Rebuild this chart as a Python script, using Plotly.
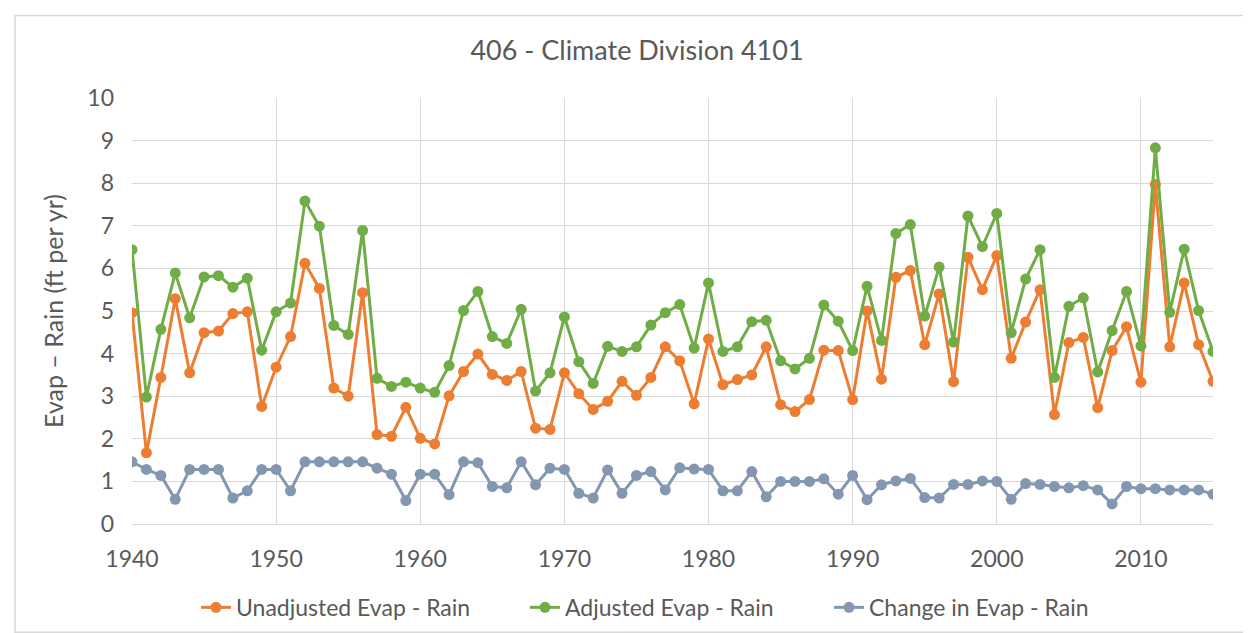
import plotly.graph_objects as go

years = list(range(1940, 2016))

unadjusted = [
    4.96, 1.67, 3.44, 5.29, 3.55, 4.49, 4.53, 4.94, 4.98, 2.76,
    3.68, 4.40, 6.12, 5.53, 3.19, 3.00, 5.43, 2.10, 2.06, 2.74,
    2.01, 1.88, 3.01, 3.58, 3.99, 3.51, 3.37, 3.58, 2.25, 2.22,
    3.55, 3.06, 2.69, 2.88, 3.35, 3.02, 3.44, 4.16, 3.83, 2.82,
    4.34, 3.27, 3.39, 3.50, 4.16, 2.80, 2.64, 2.92, 4.08, 4.07,
    2.92, 5.00, 3.40, 5.79, 5.95, 4.21, 5.40, 3.34, 6.26, 5.50,
    6.30, 3.89, 4.74, 5.50, 2.57, 4.26, 4.38, 2.73, 4.07, 4.63,
    3.33, 7.97, 4.16, 5.66, 4.21, 3.35,
]

adjusted = [
    6.44, 2.98, 4.57, 5.89, 4.84, 5.80, 5.83, 5.56, 5.77, 4.08,
    4.98, 5.19, 7.58, 6.99, 4.66, 4.45, 6.89, 3.42, 3.23, 3.33,
    3.19, 3.09, 3.72, 5.01, 5.46, 4.40, 4.24, 5.04, 3.12, 3.55,
    4.86, 3.81, 3.30, 4.17, 4.05, 4.16, 4.67, 4.96, 5.15, 4.13,
    5.66, 4.05, 4.16, 4.75, 4.78, 3.83, 3.64, 3.89, 5.14, 4.76,
    4.07, 5.58, 4.31, 6.82, 7.03, 4.88, 6.03, 4.27, 7.23, 6.51,
    7.29, 4.49, 5.75, 6.44, 3.44, 5.11, 5.31, 3.57, 4.54, 5.46,
    4.18, 8.83, 4.97, 6.45, 5.01, 4.05,
]

change = [
    1.46, 1.28, 1.14, 0.58, 1.28, 1.28, 1.28, 0.61, 0.78, 1.28,
    1.28, 0.78, 1.46, 1.46, 1.46, 1.46, 1.46, 1.31, 1.17, 0.55,
    1.17, 1.17, 0.69, 1.46, 1.44, 0.88, 0.85, 1.46, 0.92, 1.31,
    1.28, 0.72, 0.61, 1.27, 0.72, 1.14, 1.23, 0.80, 1.32, 1.29,
    1.28, 0.78, 0.78, 1.23, 0.64, 1.00, 1.00, 1.00, 1.06, 0.70,
    1.14, 0.57, 0.92, 1.01, 1.07, 0.62, 0.61, 0.93, 0.93, 1.01,
    1.00, 0.58, 0.95, 0.93, 0.88, 0.85, 0.90, 0.80, 0.47, 0.88,
    0.83, 0.83, 0.80, 0.80, 0.80, 0.70,
]

x_ticks = [1940, 1950, 1960, 1970, 1980, 1990, 2000, 2010]
y_ticks = list(range(0, 11))

series = [
    ("Unadjusted Evap - Rain", unadjusted, "#ED7D31"),
    ("Adjusted Evap - Rain", adjusted, "#70AD47"),
    ("Change in Evap - Rain", change, "#8497B0"),
]

FONT = "Lato, 'Open Sans', sans-serif"
TXT = "#595959"
GRID = "#D9D9D9"

W, H = 1251, 633
L, R, T, B = 124, 46, 90, 114
pw, ph = W - L - R, H - T - B


def px(x):
    return (x - L) / pw


def py(y):
    return (H - B - y) / ph


legend_names = ["legend", "legend2", "legend3"]
legend_text_x = [230, 559, 863]

fig = go.Figure()
for (name, vals, color), lg in zip(series, legend_names):
    fig.add_trace(go.Scatter(
        x=years, y=vals, name=name, mode="lines+markers",
        line=dict(color=color, width=3),
        marker=dict(color=color, size=11, symbol="circle"),
        legend=lg,
    ))

legends = {}
for lg, tx in zip(legend_names, legend_text_x):
    legends[lg] = dict(
        orientation="h", x=px(tx - 42), xanchor="left",
        y=py(603), yanchor="middle", font=dict(size=23, color=TXT, family=FONT),
        bgcolor="rgba(0,0,0,0)", itemwidth=30,
    )

fig.update_layout(
    width=W, height=H,
    margin=dict(l=L, r=R, t=T, b=B),
    paper_bgcolor="white", plot_bgcolor="white",
    font=dict(family=FONT, color=TXT, size=23),
    title=dict(text="406 - Climate Division 4101", x=629 / W, xanchor="center",
               xref="container", y=1 - 43 / H, yanchor="middle", yref="container",
               font=dict(size=27, color=TXT, family=FONT)),
    showlegend=True,
    xaxis=dict(range=[1940, 2015], tickmode="array", tickvals=x_ticks,
               showgrid=True, gridcolor=GRID, gridwidth=1.3,
               showline=True, linecolor=GRID, linewidth=1.3,
               zeroline=False, ticks="", ticklabelstandoff=14,
               tickfont=dict(size=23, color=TXT)),
    yaxis=dict(range=[0, 10], tickmode="array", tickvals=y_ticks,
               showgrid=True, gridcolor=GRID, gridwidth=1.3,
               showline=False, zeroline=False, ticks="", ticklabelstandoff=17,
               title=dict(text="Evap \u2013 Rain (ft per yr)", standoff=16,
                          font=dict(size=25, color=TXT)),
               tickfont=dict(size=23, color=TXT)),
    shapes=[dict(type="rect", xref="paper", yref="paper",
                 x0=px(7), x1=px(1248), y0=py(628), y1=py(7),
                 line=dict(color=GRID, width=1.5), fillcolor="rgba(0,0,0,0)",
                 layer="below")],
    **legends,
)

fig.write_html("out.html")
